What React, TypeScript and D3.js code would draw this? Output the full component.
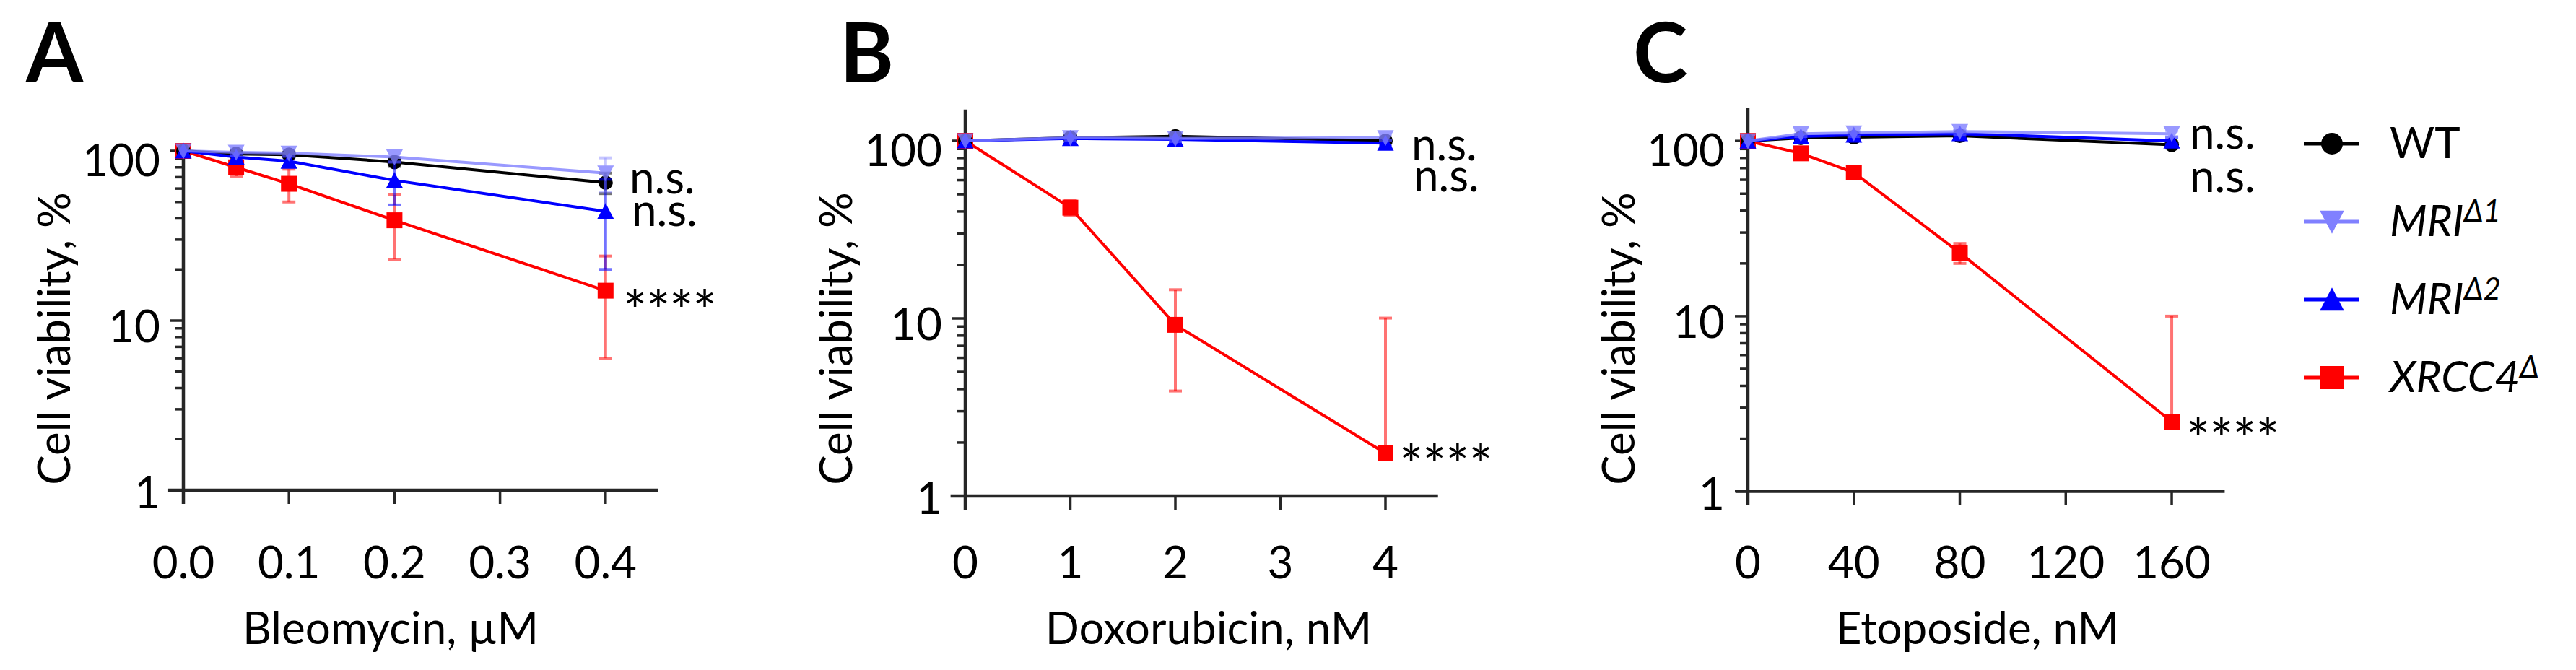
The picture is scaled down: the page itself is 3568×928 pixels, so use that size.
import React from 'react';
import * as d3 from 'd3';

const FONT = "Lato, 'Liberation Sans', sans-serif";

// ---------- series ----------
const seriesBase = ['WT', 'MRI', 'MRI', 'XRCC4'];
const seriesSup = ['', 'Δ1', 'Δ2', 'Δ'];
const seriesItalic = [false, true, true, true];
const seriesColor = ['#000000', '#8080ff', '#0000ff', '#ff0000'];
const seriesShape = ['circle', 'down', 'up', 'square'];
const drawOrder = [3, 0, 2, 1];

// ---------- Panel A: Bleomycin ----------
const bleoDose = [0, 0.05, 0.1, 0.2, 0.4];
const bleoWT = [100, 96, 95, 86, 65];
const bleoWTsd = [2, 3, 3, 5, 9];
const bleoMRI1 = [100, 98, 97, 92, 74];
const bleoMRI1sd = [3, 4, 4, 6, 17];
const bleoMRI2 = [100, 92, 87, 67, 44];
const bleoMRI2sd = [2, 4, 6, 19, 24];
const bleoXRCC4 = [100, 80, 64, 39, 15];
const bleoXRCC4sd = [2, 9, 14, 16, 9];
const bleoTicks = [0, 0.1, 0.2, 0.3, 0.4];
const bleoTickLabels = ['0.0', '0.1', '0.2', '0.3', '0.4'];

// ---------- Panel B: Doxorubicin ----------
const doxoDose = [0, 1, 2, 4];
const doxoWT = [100, 104, 106, 100];
const doxoWTsd = [2, 3, 3, 3];
const doxoMRI1 = [100, 104, 103, 104];
const doxoMRI1sd = [2, 3, 4, 4];
const doxoMRI2 = [100, 103, 102, 97];
const doxoMRI2sd = [2, 3, 3, 4];
const doxoXRCC4 = [100, 42, 9.2, 1.74];
const doxoXRCC4sd = [2, 4, 5.3, 8.3];
const doxoTicks = [0, 1, 2, 3, 4];
const doxoTickLabels = ['0', '1', '2', '3', '4'];

// ---------- Panel C: Etoposide ----------
const etoDose = [0, 20, 40, 80, 160];
const etoWT = [100, 104, 105, 107, 95];
const etoWTsd = [2, 3, 3, 3, 4];
const etoMRI1 = [100, 110, 111, 113, 110];
const etoMRI1sd = [2, 4, 5, 5, 4];
const etoMRI2 = [100, 106, 108, 110, 100];
const etoMRI2sd = [2, 3, 4, 4, 4];
const etoXRCC4 = [100, 85, 66, 23, 2.5];
const etoXRCC4sd = [2, 5, 4, 3, 7.5];
const etoTicks = [0, 40, 80, 120, 160];
const etoTickLabels = ['0', '40', '80', '120', '160'];

const yTickValues = [1, 10, 100];
const yTickLabels = ['1', '10', '100'];

const nsLabels = ['n.s.', 'n.s.'];
const starLabel = '****';

// ---------- panels (layout) ----------
const panels = [
  {
    label: 'A', labelX: 36,
    xTitle: 'Bleomycin, µM', xTitleX: 541,
    dose: bleoDose,
    values: [bleoWT, bleoMRI1, bleoMRI2, bleoXRCC4],
    sds: [bleoWTsd, bleoMRI1sd, bleoMRI2sd, bleoXRCC4sd],
    ticks: bleoTicks, tickLabels: bleoTickLabels,
    xDomain: [-0.0144, 0.45], x0: 254, xUnit: 1462,
    yMax: 108, yBottom: 679, decade: 235,
    ns: [{ x: 872, y: 268 }, { x: 875, y: 313 }],
    star: { x: 863, y: 415 },
  },
  {
    label: 'B', labelX: 1163,
    xTitle: 'Doxorubicin, nM', xTitleX: 1674,
    dose: doxoDose,
    values: [doxoWT, doxoMRI1, doxoMRI2, doxoXRCC4],
    sds: [doxoWTsd, doxoMRI1sd, doxoMRI2sd, doxoXRCC4sd],
    ticks: doxoTicks, tickLabels: doxoTickLabels,
    xDomain: [-0.14, 4.5], x0: 1337, xUnit: 145.5,
    yMax: 150, yBottom: 687, decade: 246,
    ns: [{ x: 1955, y: 222 }, { x: 1958, y: 265 }],
    star: { x: 1938, y: 629 },
  },
  {
    label: 'C', labelX: 2262,
    xTitle: 'Etoposide, nM', xTitleX: 2739,
    dose: etoDose,
    values: [etoWT, etoMRI1, etoMRI2, etoXRCC4],
    sds: [etoWTsd, etoMRI1sd, etoMRI2sd, etoXRCC4sd],
    ticks: etoTicks, tickLabels: etoTickLabels,
    xDomain: [-4.4, 180], x0: 2421, xUnit: 3.669,
    yMax: 155, yBottom: 680.6, decade: 242.7,
    ns: [{ x: 3033, y: 206 }, { x: 3033, y: 266 }],
    star: { x: 3028, y: 593 },
  },
];

const AXIS = '#262626';

function markerPath(shape: string, s: number): string {
  const h = s / 2;
  if (shape === 'circle') return d3.symbol(d3.symbolCircle, Math.PI * h * h)() as string;
  if (shape === 'square') return `M${-h},${-h}H${h}V${h}H${-h}Z`;
  if (shape === 'up') return `M0,${-h * 1.05}L${h * 1.05},${h * 0.95}L${-h * 1.05},${h * 0.95}Z`;
  return `M0,${h * 1.05}L${h * 1.05},${-h * 0.95}L${-h * 1.05},${-h * 0.95}Z`;
}

function Panel({ p }: { p: any }) {
  const x = d3
    .scaleLinear()
    .domain(p.xDomain)
    .range([p.x0 + p.xUnit * p.xDomain[0], p.x0 + p.xUnit * p.xDomain[1]]);
  const y = d3
    .scaleLog()
    .domain([1, p.yMax])
    .range([p.yBottom, p.yBottom - p.decade * Math.log10(p.yMax)]);
  const [xs, xe] = x.range();
  const yb = y(1);
  const yt = y(p.yMax);
  const ax = x(0);

  const minor: number[] = [];
  for (let k = 0; k < 3; k++)
    for (let m = 2; m <= 9; m++) {
      const v = m * Math.pow(10, k);
      if (v <= p.yMax) minor.push(v);
    }

  const line = d3
    .line<number>()
    .x((_, i) => x(p.dose[i]))
    .y((v) => y(v));

  const starSize = 78;

  return (
    <g>
      <text x={p.labelX} y={114} fontFamily={FONT} fontWeight={700} fontSize={114} fill="#000">
        {p.label}
      </text>
      {/* axes */}
      <line x1={ax} x2={ax} y1={yt} y2={yb + 19} stroke={AXIS} strokeWidth={4.5} />
      <line x1={xs} x2={xe} y1={yb} y2={yb} stroke={AXIS} strokeWidth={4.5} />
      {p.ticks.map((t: number, i: number) => (
        <g key={'xt' + i}>
          <line x1={x(t)} x2={x(t)} y1={yb} y2={yb + 19} stroke={AXIS} strokeWidth={3.5} />
          <text x={x(t)} y={801} textAnchor="middle" fontFamily={FONT} fontSize={62} fill="#000">
            {p.tickLabels[i]}
          </text>
        </g>
      ))}
      {minor.map((v) => (
        <line key={'mn' + v} x1={ax - 11} x2={ax} y1={y(v)} y2={y(v)} stroke={AXIS} strokeWidth={3.5} />
      ))}
      {yTickValues.map((v, i) => (
        <g key={'yt' + v}>
          <line x1={ax - 18} x2={ax} y1={y(v)} y2={y(v)} stroke={AXIS} strokeWidth={3.5} />
          <text
            x={ax - 32}
            y={y(v) + 25 + 5 * Math.log10(v)}
            textAnchor="end"
            fontFamily={FONT}
            fontSize={62}
            fill="#000"
          >
            {yTickLabels[i]}
          </text>
        </g>
      ))}
      <text
        transform={`translate(${ax - 157},469) rotate(-90)`}
        textAnchor="middle"
        fontFamily={FONT}
        fontSize={62}
        fill="#000"
      >
        Cell viability, %
      </text>
      <text x={p.xTitleX} y={892} textAnchor="middle" fontFamily={FONT} fontSize={62} fill="#000">
        {p.xTitle}
      </text>

      {/* data */}
      {drawOrder.map((s) => {
        const vals: number[] = p.values[s];
        const sds: number[] = p.sds[s];
        const col = seriesColor[s];
        const op = s === 1 ? 0.8 : 1;
        return (
          <g key={'s' + s} opacity={op}>
            {vals.map((v, i) => {
              if (i === 0) return null;
              const up = y(Math.min(v + sds[i], p.yMax));
              const lowV = v - sds[i];
              const lo = lowV > 1 ? y(lowV) : null;
              const cx = x(p.dose[i]);
              return (
                <g key={'e' + i} stroke={col} strokeOpacity={0.55}>
                  <line x1={cx} x2={cx} y1={up} y2={lo ?? y(v)} strokeWidth={4} />
                  <line x1={cx - 9} x2={cx + 9} y1={up} y2={up} strokeWidth={4} />
                  {lo !== null && <line x1={cx - 9} x2={cx + 9} y1={lo} y2={lo} strokeWidth={4} />}
                </g>
              );
            })}
            <path d={line(vals) as string} fill="none" stroke={col} strokeWidth={4} />
            {vals.map((v, i) => (
              <path
                key={'m' + i}
                d={markerPath(seriesShape[s], seriesShape[s] === 'circle' ? 20 : 22)}
                transform={`translate(${x(p.dose[i])},${y(v)})`}
                fill={col}
              />
            ))}
          </g>
        );
      })}

      <text fontFamily={FONT} fontSize={62} fill="#000">
        {p.ns.map((g: any, i: number) => (
          <tspan key={'ns' + i} x={g.x} y={g.y}>
            {nsLabels[i]}
          </tspan>
        ))}
      </text>
      <text
        x={p.star.x}
        y={p.star.y + 0.57 * starSize}
        fontFamily={FONT}
        fontSize={starSize}
        letterSpacing={-1}
        fill="#000"
      >
        {starLabel}
      </text>
    </g>
  );
}

function Legend() {
  const rows = [199, 307, 415, 523];
  return (
    <g>
      {rows.map((ry, s) => (
        <g key={'lg' + s}>
          <line x1={3191} x2={3268} y1={ry} y2={ry} stroke={seriesColor[s]} strokeWidth={5} />
          <path
            d={markerPath(seriesShape[s], seriesShape[s] === 'circle' ? 30 : 32)}
            transform={`translate(3230,${ry})`}
            fill={seriesColor[s]}
          />
          <text x={3310} y={ry + 20} fontFamily={FONT} fontSize={60} fill="#000">
            <tspan fontStyle={seriesItalic[s] ? 'italic' : 'normal'}>{seriesBase[s]}</tspan>
            {seriesSup[s] && (
              <tspan fontStyle="italic" fontSize={42} dy={-20}>
                {seriesSup[s]}
              </tspan>
            )}
          </text>
        </g>
      ))}
    </g>
  );
}

export default function App() {
  return (
    <svg
      width={3568}
      height={928}
      viewBox="0 0 3568 928"
      style={{ position: 'absolute', left: 0, top: 0, background: '#fff' }}
    >
      <rect width={3568} height={928} fill="#fff" />
      {panels.map((p) => (
        <Panel key={p.label} p={p} />
      ))}
      <Legend />
    </svg>
  );
}
